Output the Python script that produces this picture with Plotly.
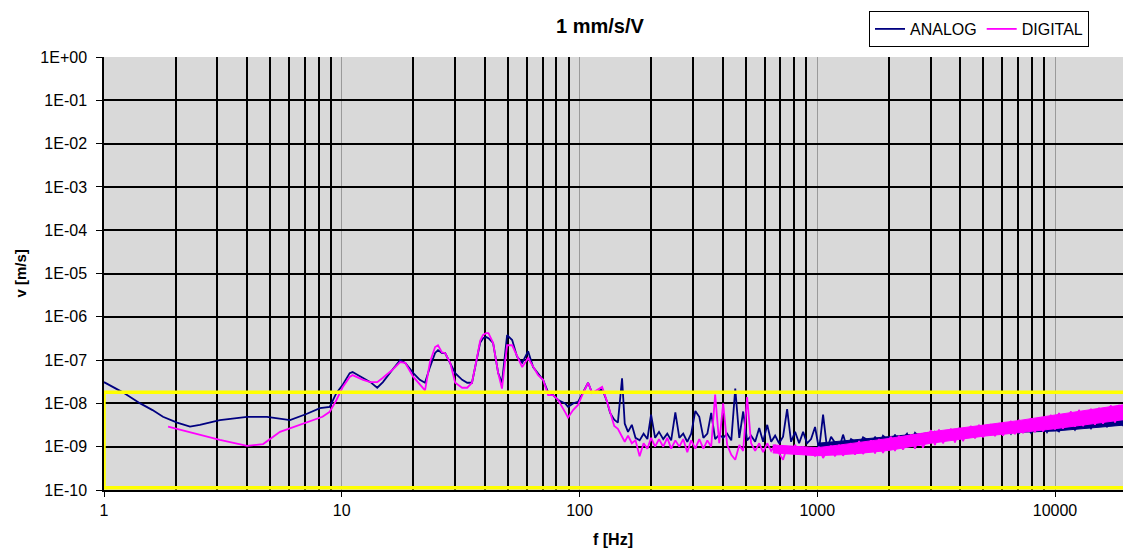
import plotly.graph_objects as go

NANO = 1e-9

# ---------------- data ----------------
freq_low_analog = [1.0, 1.2, 1.42, 1.6, 1.77, 2.03, 2.3, 2.53, 3.07, 4.0, 4.85, 6.06, 7.1, 8.1, 8.9, 9.5, 10.1]
analog_low = [3.1e-8, 1.8e-8, 1.0e-8, 7.0e-9, 4.9e-9, 3.6e-9, 2.9e-9, 3.2e-9, 4.1e-9, 4.9e-9,
              4.9e-9, 4.1e-9, 5.7e-9, 7.8e-9, 8.3e-9, 1.74e-8, 2.7e-8]

freq_low_digital = [1.86, 2.37, 3.07, 4.0, 4.67, 5.5, 6.25, 7.6, 8.3, 8.9, 9.5, 10.1]
digital_low = [2.9e-9, 2.1e-9, 1.43e-9, 1.05e-9, 1.15e-9, 2.2e-9, 2.85e-9, 4.1e-9, 4.9e-9,
               6.4e-9, 1.2e-8, 2.4e-8]

freq_mid = [10.8, 11.1, 12.3, 13.2, 14.1, 14.9, 16.3, 17.6, 18.5, 20.0, 21.3, 22.4, 23.5, 24.7,
            25.4, 26.4, 27.2, 28.6, 30.0, 32.1, 33.7, 35.3, 37.1, 38.2, 39.3, 40.5, 41.4, 43.3,
            45.5, 47.2, 48.5, 49.6, 52.1, 54.6, 57.4, 60.8, 63.8, 67.0, 70.3, 73.8, 77.4, 81.3,
            87.0, 89.5, 94.0, 98.6, 103.6, 108.7, 113.0, 118.6, 124.5, 130.7, 134.5]
analog_mid = [5.0e-8, 5.3e-8, 3.9e-8, 3.1e-8, 2.3e-8, 3.1e-8, 5.9e-8, 1.0e-7, 8.6e-8, 5.0e-8,
              3.5e-8, 3.0e-8, 6.9e-8, 1.46e-7, 1.7e-7, 1.46e-7, 1.46e-7, 8.6e-8, 5.0e-8, 3.5e-8,
              3.0e-8, 3.0e-8, 1.18e-7, 2.5e-7, 3.2e-7, 3.4e-7, 3.2e-7, 2.5e-7, 5.0e-8, 3.0e-8,
              1.2e-7, 3.8e-7, 2.9e-7, 1.2e-7, 8.6e-8, 1.6e-7, 6.9e-8, 5.0e-8, 3.5e-8, 1.8e-8,
              1.56e-8, 1.2e-8, 1.0e-8, 8.3e-9, 1.0e-8, 1.08e-8, 1.74e-8, 3.0e-8, 1.74e-8, 1.8e-8,
              2.2e-8, 1.08e-8, 6.0e-9]
digital_mid = [4.1e-8, 4.5e-8, 3.5e-8, 3.1e-8, 3.1e-8, 3.9e-8, 5.9e-8, 9.0e-8, 8.6e-8, 4.1e-8,
               2.7e-8, 2.0e-8, 9.0e-8, 2.0e-7, 2.2e-7, 1.5e-7, 1.46e-7, 8.6e-8, 3.0e-8, 2.3e-8,
               2.3e-8, 3.0e-8, 1.18e-7, 2.8e-7, 3.8e-7, 4.2e-7, 4.2e-7, 2.5e-7, 5.0e-8, 2.2e-8,
               8.0e-8, 2.2e-7, 2.2e-7, 1.2e-7, 6.9e-8, 1.12e-7, 6.9e-8, 4.5e-8, 3.5e-8, 1.56e-8,
               1.56e-8, 1.2e-8, 6.3e-9, 4.7e-9, 7.0e-9, 9.2e-9, 1.74e-8, 3.0e-8, 1.74e-8, 2.0e-8,
               2.4e-8, 1.08e-8, 6.0e-9]

freq_hi = [140, 145, 151, 155, 160, 166, 172, 179, 186, 193, 200, 208, 216, 225, 234, 243, 253,
           263, 273, 284, 295, 307, 319, 332, 345, 358, 372, 387, 402, 418, 435, 452, 470, 488,
           507, 527, 548, 570, 592, 616, 640, 665, 691, 718, 747, 776, 807, 839, 872, 906, 942,
           979, 1018, 1058, 1100, 1143, 1188, 1235, 1284, 1334, 1387, 1442, 1499, 1558, 1619,
           1683, 1750, 1819, 1890, 1965, 2043, 2123, 2207, 2294, 2385, 2479, 2577, 2679, 2784,
           2894, 3009, 3127, 3251, 3379, 3513, 3651, 3795, 3945, 4101, 4263, 4432, 4607, 4789,
           4978, 5175, 5379, 5592, 5813, 6042, 6281, 6529, 6787, 7055, 7334, 7623, 7925, 8238,
           8563, 8901, 9253, 9618, 9998, 10393, 10804, 11230, 11674, 12135, 12614, 13113, 13631,
           14169, 14729, 15311, 15916, 16544, 17198, 17877, 18584, 19318, 20081]
# values in nm/s
analog_hi_nm = [4.2, 3.6, 38, 3.4, 2.2, 3.2, 1.6, 1.4, 2.0, 1.5,
                5.5, 1.6, 2.2, 1.5, 2.0, 1.4, 6.2, 1.6, 2.0, 1.3,
                2.0, 6.7, 4.9, 1.6, 2.0, 6.0, 1.5, 1.9, 1.6, 2.0,
                1.4, 22, 1.6, 6.5, 1.4, 1.8, 1.3, 2.7, 1.3, 3.2,
                1.3, 1.8, 1.2, 1.7, 7.4, 1.3, 2.2, 1.2, 2.2, 1.2,
                1.5, 2.85,
                0.85, 5.5, 0.9, 1.7, 1.2, 0.9, 1.9, 0.95, 1.5, 1.3,
                1.0, 1.65, 1.45, 1.0, 1.7, 1.05, 1.8, 1.5, 1.1, 1.9,
                1.2, 1.55, 2.0, 1.25, 2.1, 1.7, 1.35, 2.15, 1.4, 2.2,
                1.9, 1.55, 2.35, 1.6, 2.1, 2.6, 1.7, 2.55, 1.8, 2.3,
                1.85, 2.7, 2.2, 2.75, 1.95, 2.8, 2.3, 2.85, 2.0, 2.9,
                2.05, 2.5, 2.95, 2.1, 3.0, 2.4, 3.05, 2.15, 3.1, 2.6,
                2.25, 3.25, 2.7, 3.35, 2.45, 3.5, 2.9, 3.65, 2.65, 3.8,
                3.1, 3.95, 2.9, 4.1, 3.5, 4.3, 3.15, 4.5]
digital_hi_nm = [3.0, 2.6, 1.7, 1.3, 1.8, 1.2, 1.4, 0.6, 1.2, 0.9,
                 1.6, 1.0, 1.5, 1.0, 1.6, 0.9, 1.4, 1.0, 1.5, 0.75,
                 1.4, 0.9, 1.5, 0.9, 1.4, 1.0, 16, 1.2, 10, 1.1,
                 0.65, 0.5, 1.1, 0.8, 14, 1.2, 0.8, 1.2, 0.75, 1.2,
                 0.8, 1.1, 0.7, 0.5, 1.0, 0.7, 1.1, 0.7, 1.0, 0.65,
                 0.95, 0.6,
                 1.0, 0.55, 0.8, 1.05, 0.6, 1.1, 0.62, 0.9, 1.2, 0.65,
                 1.35, 0.68, 1.0, 1.4, 0.7, 1.5, 0.72, 1.2, 1.7, 0.8,
                 1.8, 0.85, 1.4, 1.9, 0.9, 2.0, 0.95, 1.6, 2.4, 1.1,
                 2.5, 1.2, 1.9, 2.6, 1.25, 2.7, 1.35, 2.2, 3.0, 1.55,
                 3.2, 1.65, 2.5, 3.3, 1.75, 3.5, 1.8, 2.8, 3.9, 1.95,
                 4.2, 2.05, 3.2, 4.5, 2.15, 4.8, 2.25, 3.6, 5.4, 2.5,
                 6.0, 2.6, 4.2, 6.5, 2.9, 7.1, 3.0, 5.0, 7.5, 3.2,
                 8.0, 3.4, 6.2, 9.0, 3.6, 9.2, 4.4, 10.0]

# dense noise bands (envelopes), nm/s
analog_band_freq = [1000, 1250, 1500, 2000, 3000, 5000, 7000, 10000, 14000, 20081]
analog_band_lo_nm = [0.95, 1.0, 1.05, 1.2, 1.55, 2.0, 2.15, 2.3, 2.75, 3.2]
analog_band_hi_nm = [1.2, 1.35, 1.5, 1.7, 2.1, 2.6, 2.8, 3.0, 3.5, 4.2]
digital_band_freq = [650, 850, 1000, 1250, 1500, 2000, 3000, 5000, 7000, 10000, 14000, 20081]
digital_band_lo_nm = [0.72, 0.66, 0.62, 0.65, 0.7, 0.82, 1.2, 1.75, 2.1, 2.6, 3.3, 4.3]
digital_band_hi_nm = [1.1, 1.0, 0.95, 1.1, 1.25, 1.55, 2.2, 3.1, 4.0, 5.4, 7.2, 9.6]

x_tick_vals = [1, 10, 100, 1000, 10000]
x_tick_text = ["1", "10", "100", "1000", "10000"]
x_minor_vals = [m * 10 ** d for d in range(0, 5) for m in range(2, 10)]
y_tick_vals = [1e0, 1e-1, 1e-2, 1e-3, 1e-4, 1e-5, 1e-6, 1e-7, 1e-8, 1e-9, 1e-10]
y_tick_text = ["1E+00", "1E-01", "1E-02", "1E-03", "1E-04", "1E-05", "1E-06", "1E-07",
               "1E-08", "1E-09", "1E-10"]

# yellow tolerance band
limit_freq = [1, 30000]
limit_low = 1.12e-10
limit_high = 1.8e-8

NAVY = "#000080"
MAGENTA = "#ff00ff"

# ---------------- figure ----------------
analog_x = freq_low_analog + freq_mid + freq_hi
analog_y = analog_low + analog_mid + [v * NANO for v in analog_hi_nm]
digital_x = freq_low_digital + freq_mid + freq_hi
digital_y = digital_low + digital_mid + [v * NANO for v in digital_hi_nm]


def band(freqs, lo, hi):
    xs = freqs + freqs[::-1]
    ys = [v * NANO for v in hi] + [v * NANO for v in lo[::-1]]
    return xs, ys


FONT = "Liberation Sans, Arial, sans-serif"

fig = go.Figure()
bx, by = band(analog_band_freq, analog_band_lo_nm, analog_band_hi_nm)
fig.add_trace(go.Scatter(x=bx, y=by, mode="lines", fill="toself", fillcolor=NAVY,
                         line=dict(color=NAVY, width=1), showlegend=False, hoverinfo="skip"))
fig.add_trace(go.Scatter(x=analog_x, y=analog_y, mode="lines", name="ANALOG",
                         line=dict(color=NAVY, width=1.8)))
bx, by = band(digital_band_freq, digital_band_lo_nm, digital_band_hi_nm)
fig.add_trace(go.Scatter(x=bx, y=by, mode="lines", fill="toself", fillcolor=MAGENTA,
                         line=dict(color=MAGENTA, width=1), showlegend=False, hoverinfo="skip"))
fig.add_trace(go.Scatter(x=digital_x, y=digital_y, mode="lines", name="DIGITAL",
                         line=dict(color=MAGENTA, width=1.8)))

# yellow rectangle (drawn last, above the traces)
rect_x = [limit_freq[0], limit_freq[1], limit_freq[1], limit_freq[0], limit_freq[0]]
rect_y = [limit_low, limit_low, limit_high, limit_high, limit_low]
fig.add_trace(go.Scatter(x=rect_x, y=rect_y, mode="lines", showlegend=False,
                         hoverinfo="skip", line=dict(color="#ffff00", width=3.5)))

fig.update_layout(
    width=1123, height=549,
    margin=dict(l=104, r=0, t=57, b=59, autoexpand=False),
    paper_bgcolor="white",
    plot_bgcolor="#d9d9d9",
    font=dict(family=FONT, size=16, color="black"),
    showlegend=True,
    legend=dict(orientation="h", xref="container", yref="container",
                x=869 / 1123, y=1 - 11 / 549, xanchor="left", yanchor="top",
                bgcolor="white", bordercolor="black", borderwidth=1,
                font=dict(family=FONT, size=16), itemwidth=30, tracegroupgap=0,
                traceorder="normal"),
    annotations=[
        dict(text="<b>1 mm/s/V</b>", xref="paper", yref="paper",
             x=(600 - 104) / 1019, y=1 + (57 - 26) / 433, showarrow=False,
             xanchor="center", yanchor="middle", font=dict(family=FONT, size=20)),
        dict(text="<b>v [m/s]</b>", xref="paper", yref="paper",
             x=(20 - 104) / 1019, y=0.5, showarrow=False, textangle=-90,
             xanchor="center", yanchor="middle", font=dict(family=FONT, size=15)),
        dict(text="<b>f [Hz]</b>", xref="paper", yref="paper",
             x=(613 - 104) / 1019, y=(490 - 539) / 433, showarrow=False,
             xanchor="center", yanchor="middle", font=dict(family=FONT, size=16)),
    ],
)

fig.update_xaxes(type="log", range=[0, 4.286],
                 tickvals=x_tick_vals, ticktext=x_tick_text,
                 ticks="outside", ticklen=5, tickcolor="black",
                 showgrid=True, gridcolor="#9a9a9a", gridwidth=1,
                 minor=dict(tickmode="array", tickvals=x_minor_vals, showgrid=True,
                            gridcolor="black", gridwidth=1.5, ticks=""),
                 showline=True, linecolor="black", linewidth=1.5,
                 zeroline=False, tickfont=dict(family=FONT, size=16))
fig.update_yaxes(type="log", range=[-10, 0],
                 tickvals=y_tick_vals, ticktext=y_tick_text,
                 ticks="outside", ticklen=6, tickcolor="black", ticklabelstandoff=6,
                 showgrid=True, gridcolor="black", gridwidth=1.5,
                 showline=True, linecolor="black", linewidth=1.5,
                 zeroline=False, tickfont=dict(family=FONT, size=16))

fig.write_html("out.html", config={"displayModeBar": False},
               post_script="document.body.style.margin='0px';document.body.style.overflow='hidden';")
